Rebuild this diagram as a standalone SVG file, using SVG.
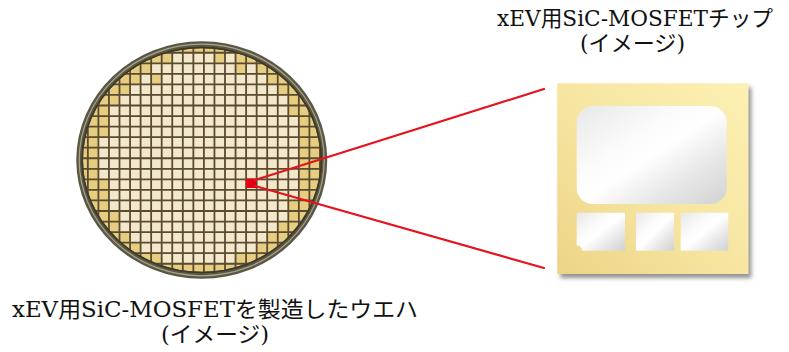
<svg xmlns="http://www.w3.org/2000/svg" width="789" height="352" viewBox="0 0 789 352">
  <style>
    .label { font-family: "DejaVu Serif", "Noto Sans CJK JP", serif; font-size: 22px; fill: #111; }
    .cream { fill: #f3e8cb; }
    .gold { fill: #e7cd80; }
    .grid { fill: none; stroke: #5a4a30; stroke-width: 1.8; }
    .link { fill: none; stroke: #e5131d; stroke-width: 2.2; stroke-linecap: round; }
    .pad { fill: url(#silver); }
  </style>
  <defs>
    <clipPath id="waferInner">
      <ellipse cx="201.75" cy="160" rx="119.5" ry="112.5"/>
    </clipPath>
    <linearGradient id="chipGold" x1="0" y1="1" x2="1" y2="0">
      <stop offset="0" stop-color="#edd486"/>
      <stop offset="0.5" stop-color="#f7e6a2"/>
      <stop offset="1" stop-color="#fdf0b4"/>
    </linearGradient>
    <linearGradient id="silver" x1="0" y1="0" x2="1" y2="1">
      <stop offset="0" stop-color="#e8e8e8"/>
      <stop offset="0.35" stop-color="#fbfbfb"/>
      <stop offset="0.5" stop-color="#ffffff"/>
      <stop offset="0.75" stop-color="#e6e6e6"/>
      <stop offset="1" stop-color="#d2d2d2"/>
    </linearGradient>
    <filter id="chipShadow" x="-10%" y="-10%" width="125%" height="125%">
      <feDropShadow dx="3" dy="4" stdDeviation="2" flood-color="#4a4a4a" flood-opacity="0.6"/>
    </filter>
  </defs>

  <!-- wafer -->
  <g id="wafer">
    <ellipse cx="201.75" cy="160" rx="125.5" ry="118.8" fill="#5a5744"/>
    <ellipse cx="201.75" cy="160" rx="122.5" ry="115.8" fill="none" stroke="#aaa58a" stroke-width="1.2"/>
    <ellipse cx="201.75" cy="160" rx="119.5" ry="112.5" class="gold" stroke="#3e3a2a" stroke-width="1.5"/>
    <g clip-path="url(#waferInner)">
      <!-- full dies, row by row -->
      <rect class="cream" x="172.25" y="52.75" width="63.3" height="10.55"/>
      <rect class="cream" x="151.15" y="63.3" width="105.5" height="10.55"/>
      <rect class="cream" x="140.6" y="73.85" width="126.6" height="10.55"/>
      <rect class="cream" x="130.05" y="84.4" width="147.7" height="10.55"/>
      <rect class="cream" x="119.5" y="94.95" width="168.8" height="10.55"/>
      <rect class="cream" x="108.95" y="105.5" width="179.35" height="10.55"/>
      <rect class="cream" x="108.95" y="116.05" width="189.9" height="21.1"/>
      <rect class="cream" x="98.4" y="137.15" width="200.45" height="42.2"/>
      <rect class="cream" x="108.95" y="179.35" width="189.9" height="21.1"/>
      <rect class="cream" x="108.95" y="200.45" width="179.35" height="10.55"/>
      <rect class="cream" x="119.5" y="211" width="168.8" height="10.55"/>
      <rect class="cream" x="119.5" y="221.55" width="158.25" height="10.55"/>
      <rect class="cream" x="130.05" y="232.1" width="137.15" height="10.55"/>
      <rect class="cream" x="140.6" y="242.65" width="116.05" height="10.55"/>
      <rect class="cream" x="161.7" y="253.2" width="73.85" height="10.55"/>
      <!-- a few off-colour dies -->
      <rect class="gold" x="214.45" y="52.75" width="10.55" height="10.55"/>
      <rect class="gold" x="235.55" y="63.3" width="10.55" height="10.55"/>
      <rect class="gold" x="151.15" y="73.85" width="10.55" height="10.55"/>
      <rect class="gold" x="277.75" y="232.1" width="10.55" height="10.55"/>
      <rect class="gold" x="256.65" y="242.65" width="10.55" height="10.55"/>
      <path class="grid" d="M77.3 40V282M87.85 40V282M98.4 40V282M108.95 40V282M119.5 40V282M130.05 40V282M140.6 40V282M151.15 40V282M161.7 40V282M172.25 40V282M182.8 40V282M193.35 40V282M203.9 40V282M214.45 40V282M225 40V282M235.55 40V282M246.1 40V282M256.65 40V282M267.2 40V282M277.75 40V282M288.3 40V282M298.85 40V282M309.4 40V282M319.95 40V282
        M75 42.2H330M75 52.75H330M75 63.3H330M75 73.85H330M75 84.4H330M75 94.95H330M75 105.5H330M75 116.05H330M75 126.6H330M75 137.15H330M75 147.7H330M75 158.25H330M75 168.8H330M75 179.35H330M75 189.9H330M75 200.45H330M75 211H330M75 221.55H330M75 232.1H330M75 242.65H330M75 253.2H330M75 263.75H330M75 274.3H330"/>
    </g>
    <ellipse cx="201.75" cy="160" rx="119.5" ry="112.5" fill="none" stroke="#3e3a2a" stroke-width="1.5"/>
  </g>

  <!-- enlarged die marker -->
  <g id="marker">
    <rect x="246" y="178.5" width="10" height="9.5" fill="#e60012"/>
  </g>

  <!-- zoom lines -->
  <g id="connectors">
    <line class="link" x1="255" y1="180" x2="544" y2="89"/>
    <line class="link" x1="255" y1="186" x2="544" y2="268"/>
  </g>

  <!-- single chip -->
  <g id="chip">
    <rect x="557.3" y="83.3" width="191" height="190.7" fill="url(#chipGold)" filter="url(#chipShadow)"/>
    <rect class="pad" x="576.7" y="106" width="150" height="98" rx="16" ry="16"/>
    <path class="pad" d="M576.7 212.7H625V250.7H582A5 5 0 0 0 576.7 245.4Z"/>
    <rect class="pad" x="636" y="212.7" width="38" height="38"/>
    <rect class="pad" x="680.7" y="212.7" width="47.6" height="38"/>
  </g>

  <!-- captions -->
  <g id="chip-label">
    <text class="label" x="497" y="26" textLength="276" lengthAdjust="spacingAndGlyphs">xEV用SiC-MOSFETチップ</text>
    <text class="label" x="580" y="51" textLength="105" lengthAdjust="spacingAndGlyphs">(イメージ)</text>
  </g>
  <g id="wafer-label">
    <text class="label" x="12" y="317" textLength="406" lengthAdjust="spacingAndGlyphs">xEV用SiC-MOSFETを製造したウエハ</text>
    <text class="label" x="161" y="342" textLength="108" lengthAdjust="spacingAndGlyphs">(イメージ)</text>
  </g>
</svg>
